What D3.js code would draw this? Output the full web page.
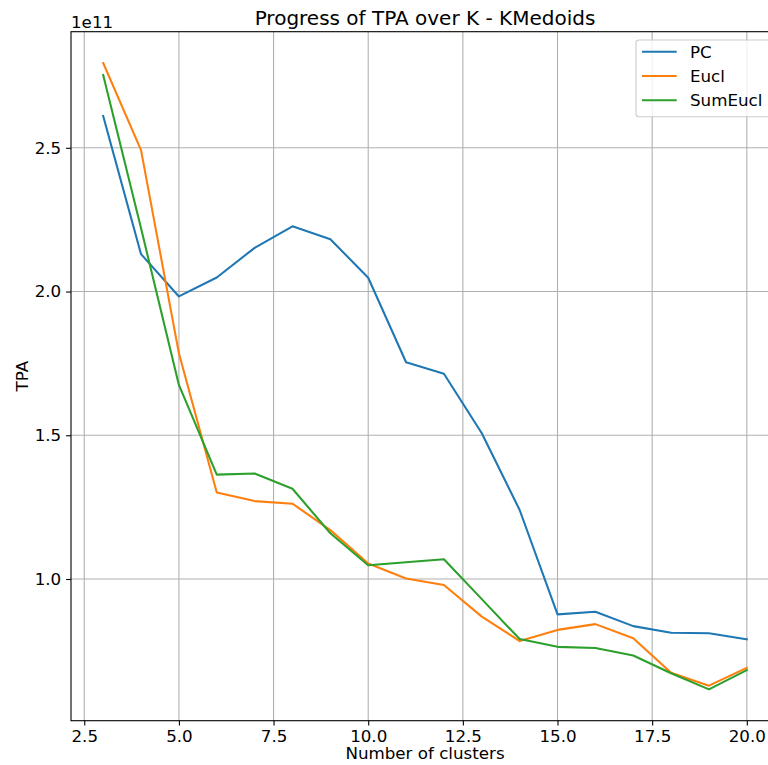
<!DOCTYPE html>
<html>
<head>
<meta charset="utf-8">
<script src="https://cdn.jsdelivr.net/npm/d3@7"></script>
<style>
  html, body { margin: 0; padding: 0; background: #fff; }
  svg { display: block; font-family: 'DejaVu Sans', sans-serif; }
  .tick text { font-size: 16.7px; fill: #000; }
</style>
</head>
<body>
<svg id="chart" width="768" height="765"></svg>
<script>
// number of clusters
const clusters = [3, 4, 5, 6, 7, 8, 9, 10, 11, 12, 13, 14, 15, 16, 17, 18, 19, 20];

// TPA values, read in units of 1e11
const pcValues = [2.611, 2.130, 1.983, 2.049, 2.152, 2.227, 2.182, 2.048, 1.754, 1.714,
  1.507, 1.240, 0.877, 0.886, 0.836, 0.813, 0.811, 0.790];
const euclValues = [2.795, 2.492, 1.785, 1.301, 1.271, 1.262, 1.170, 1.054, 1.002, 0.979,
  0.869, 0.784, 0.823, 0.843, 0.794, 0.674, 0.629, 0.691];
const sumEuclValues = [2.753, 2.220, 1.675, 1.363, 1.367, 1.314, 1.159, 1.048, 1.058, 1.069,
  0.930, 0.791, 0.764, 0.760, 0.734, 0.672, 0.616, 0.683];

const seriesNames = ['PC', 'Eucl', 'SumEucl'];
const xTicks = [2.5, 5.0, 7.5, 10.0, 12.5, 15.0, 17.5, 20.0];
const yTicks = [1.0e11, 1.5e11, 2.0e11, 2.5e11];

const colors = ['#1f77b4', '#ff7f0e', '#2ca02c'];
const series = [pcValues, euclValues, sumEuclValues].map(function(vals, i) {
  return {name: seriesNames[i], color: colors[i],
    values: vals.map(function(v, j) { return [clusters[j], v * 1e11]; })};
});

const svg = d3.select('#chart'),
  margin = {top: 31.7, left: 71, bottom: 720.7, right: 779};

// matplotlib style 5% padding
const xExt = d3.extent(clusters),
  xPad = (xExt[1] - xExt[0]) * 0.05;
const allY = series.flatMap(function(s) { return s.values.map(function(d) { return d[1]; }); }),
  yExt = d3.extent(allY),
  yPad = (yExt[1] - yExt[0]) * 0.05;

const x = d3.scaleLinear()
  .domain([xExt[0] - xPad, xExt[1] + xPad])
  .range([margin.left, margin.right]);

const y = d3.scaleLinear()
  .domain([yExt[0] - yPad, yExt[1] + yPad])
  .range([margin.bottom, margin.top]);

// grid
const grid = svg.append('g').attr('stroke', '#b0b0b0').attr('stroke-width', 1.1);
grid.selectAll('.gx').data(xTicks).enter().append('line')
  .attr('x1', function(d) { return x(d); }).attr('x2', function(d) { return x(d); })
  .attr('y1', margin.top).attr('y2', margin.bottom);
grid.selectAll('.gy').data(yTicks).enter().append('line')
  .attr('y1', function(d) { return y(d); }).attr('y2', function(d) { return y(d); })
  .attr('x1', margin.left).attr('x2', margin.right);

// lines
const line = d3.line()
  .x(function(d) { return x(d[0]); })
  .y(function(d) { return y(d[1]); });

svg.append('g')
  .selectAll('path')
  .data(series)
  .enter().append('path')
  .attr('fill', 'none')
  .attr('stroke', function(d) { return d.color; })
  .attr('stroke-width', 2.08)
  .attr('stroke-linejoin', 'round')
  .attr('stroke-linecap', 'square')
  .attr('d', function(d) { return line(d.values); });

// axes
const xAxis = svg.append('g')
  .attr('transform', 'translate(0,' + margin.bottom + ')')
  .call(d3.axisBottom(x).tickValues(xTicks).tickFormat(d3.format('.1f'))
    .tickSize(4.9).tickPadding(4.9));
const yAxis = svg.append('g')
  .attr('transform', 'translate(' + margin.left + ',0)')
  .call(d3.axisLeft(y).tickValues(yTicks)
    .tickFormat(function(d) { return (d / 1e11).toFixed(1); })
    .tickSize(4.9).tickPadding(4.9));
[xAxis, yAxis].forEach(function(a) {
  a.select('.domain').remove();
  a.selectAll('.tick line').attr('stroke', '#000').attr('stroke-width', 1.1);
  a.attr('font-family', null).attr('font-size', null);
});

// spines
svg.append('rect')
  .attr('x', margin.left).attr('y', margin.top)
  .attr('width', margin.right - margin.left)
  .attr('height', margin.bottom - margin.top)
  .attr('fill', 'none').attr('stroke', '#000').attr('stroke-width', 1.1);

// texts
svg.append('text')
  .attr('x', (margin.left + margin.right) / 2).attr('y', 25)
  .attr('text-anchor', 'middle').attr('font-size', 20)
  .text('Progress of TPA over K - KMedoids');
svg.append('text')
  .attr('x', margin.left).attr('y', 28)
  .attr('font-size', 16.7)
  .text('1e11');
svg.append('text')
  .attr('x', (margin.left + margin.right) / 2).attr('y', 759)
  .attr('text-anchor', 'middle').attr('font-size', 16.7)
  .text('Number of clusters');
svg.append('text')
  .attr('transform', 'translate(28.3,' + ((margin.top + margin.bottom) / 2) + ') rotate(-90)')
  .attr('text-anchor', 'middle').attr('font-size', 16.7)
  .text('TPA');

// legend
const legend = svg.append('g').attr('transform', 'translate(636,40)');
legend.append('rect')
  .attr('width', 135).attr('height', 76.7).attr('rx', 3)
  .attr('fill', '#fff').attr('fill-opacity', 0.8)
  .attr('stroke', '#cccccc').attr('stroke-width', 1.1);
const item = legend.selectAll('.item').data(series).enter().append('g')
  .attr('transform', function(d, i) { return 'translate(0,' + (11.7 + i * 24.3) + ')'; });
item.append('line')
  .attr('x1', 6).attr('x2', 40.7)
  .attr('stroke', function(d) { return d.color; }).attr('stroke-width', 2.08);
item.append('text')
  .attr('x', 54).attr('dy', '0.35em').attr('font-size', 16.7)
  .text(function(d) { return d.name; });
</script>
</body>
</html>
